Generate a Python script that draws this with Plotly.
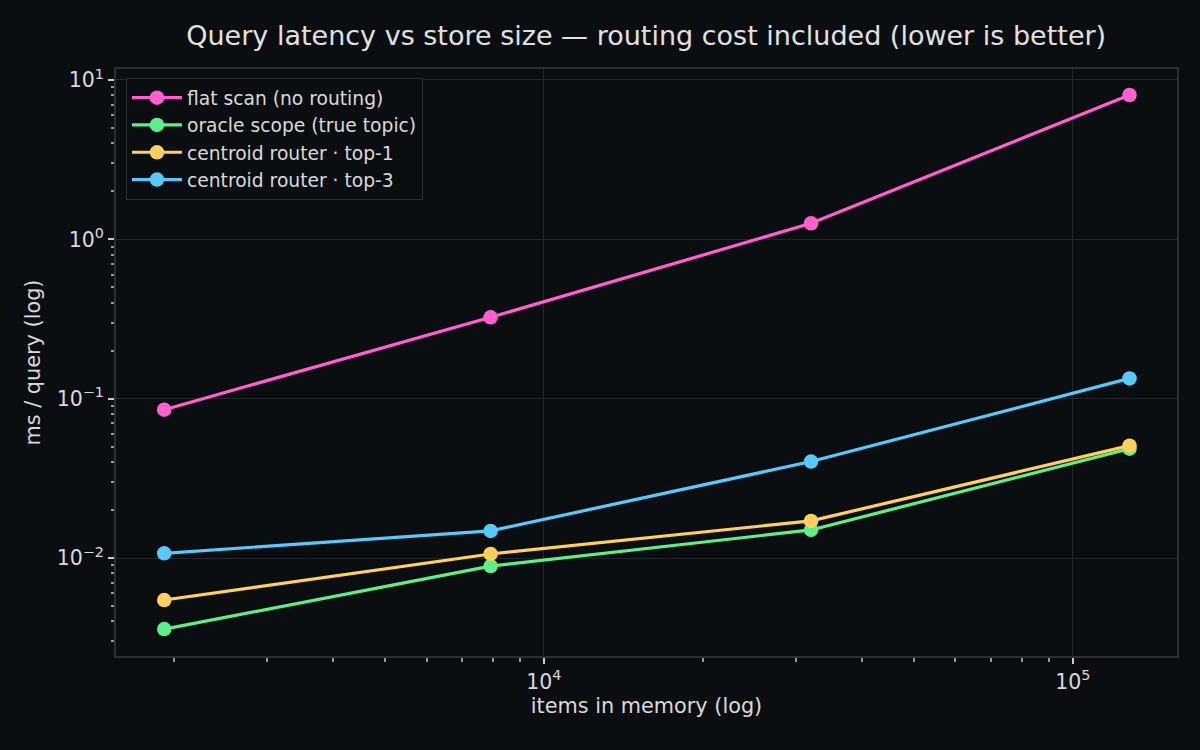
import plotly.graph_objects as go

items = [1915, 7930, 32000, 128000]
flat_scan = [0.0853, 0.324, 1.26, 8.05]
oracle_scope = [0.00358, 0.0089, 0.0150, 0.0485]
router_top1 = [0.00545, 0.0106, 0.0171, 0.0507]
router_top3 = [0.0107, 0.0148, 0.0403, 0.134]

series = [
    ("flat scan (no routing)", flat_scan, "#ff5fcf"),
    ("oracle scope (true topic)", oracle_scope, "#5fee8a"),
    ("centroid router · top-1", router_top1, "#ffcf5f"),
    ("centroid router · top-3", router_top3, "#5ac8fa"),
]

BG = "#0b0e10"
SPINE = "#2b2f33"
GRID = "#23272b"
TXT = "#d9d9d9"
FONT = "DejaVu Sans"

fig = go.Figure()
for name, vals, col in series:
    fig.add_trace(go.Scatter(
        x=items, y=vals, name=name, mode="lines+markers",
        line=dict(color=col, width=3.2),
        marker=dict(color=col, size=14.5),
    ))

x_minor = [m * 10 ** e for e in (3, 4, 5) for m in range(2, 10)]
y_minor = [m * 10.0 ** e for e in (-3, -2, -1, 0) for m in range(2, 10)]

fig.update_layout(
    width=1200, height=750,
    paper_bgcolor=BG, plot_bgcolor=BG,
    margin=dict(l=116, r=23, t=69, b=94),
    font=dict(family=FONT, color=TXT, size=18),
    title=dict(text="Query latency vs store size — routing cost included (lower is better)",
               x=0.5385, xanchor="center", y=0.952, yanchor="middle",
               font=dict(size=27, color="#e0e0e0")),
    legend=dict(x=0.0094, y=0.9847, xanchor="left", yanchor="top",
                bgcolor=BG, bordercolor=SPINE, borderwidth=1,
                font=dict(size=18.7, color=TXT), tracegroupgap=0,
                itemwidth=50),
    showlegend=True,
)

fig.update_xaxes(
    type="log", range=[3.191, 5.197],
    title=dict(text="items in memory (log)", font=dict(size=20.8, color=TXT), standoff=6),
    tickmode="array", tickvals=[1e4, 1e5],
    ticktext=["10<sup>4</sup>", "10<sup>5</sup>"],
    tickfont=dict(size=20.5, color=TXT),
    ticks="outside", ticklen=6, tickwidth=1.5, tickcolor="#cccccc",
    showgrid=True, gridcolor=GRID, gridwidth=1,
    showline=True, linecolor=SPINE, linewidth=2, mirror=True,
    zeroline=False,
    minor=dict(tickmode="array", tickvals=x_minor, ticks="outside",
               ticklen=3.5, tickcolor="#999999", showgrid=False),
)
fig.update_yaxes(
    type="log", range=[-2.615, 1.069],
    title=dict(text="ms / query (log)", font=dict(size=20.8, color=TXT), standoff=10),
    tickmode="array", tickvals=[1e-2, 1e-1, 1, 10],
    ticktext=["10<sup>−2</sup>", "10<sup>−1</sup>", "10<sup>0</sup>", "10<sup>1</sup>"],
    tickfont=dict(size=20.5, color=TXT),
    ticks="outside", ticklen=6, tickwidth=1.5, tickcolor="#cccccc",
    showgrid=True, gridcolor=GRID, gridwidth=1,
    showline=True, linecolor=SPINE, linewidth=2, mirror=True,
    zeroline=False,
    minor=dict(tickmode="array", tickvals=y_minor, ticks="outside",
               ticklen=3.5, tickcolor="#999999", showgrid=False),
)

fig.write_html(
    "out.html",
    config={"displayModeBar": False},
    post_script="document.body.style.margin='0';document.body.style.background='#0b0e10';",
)
